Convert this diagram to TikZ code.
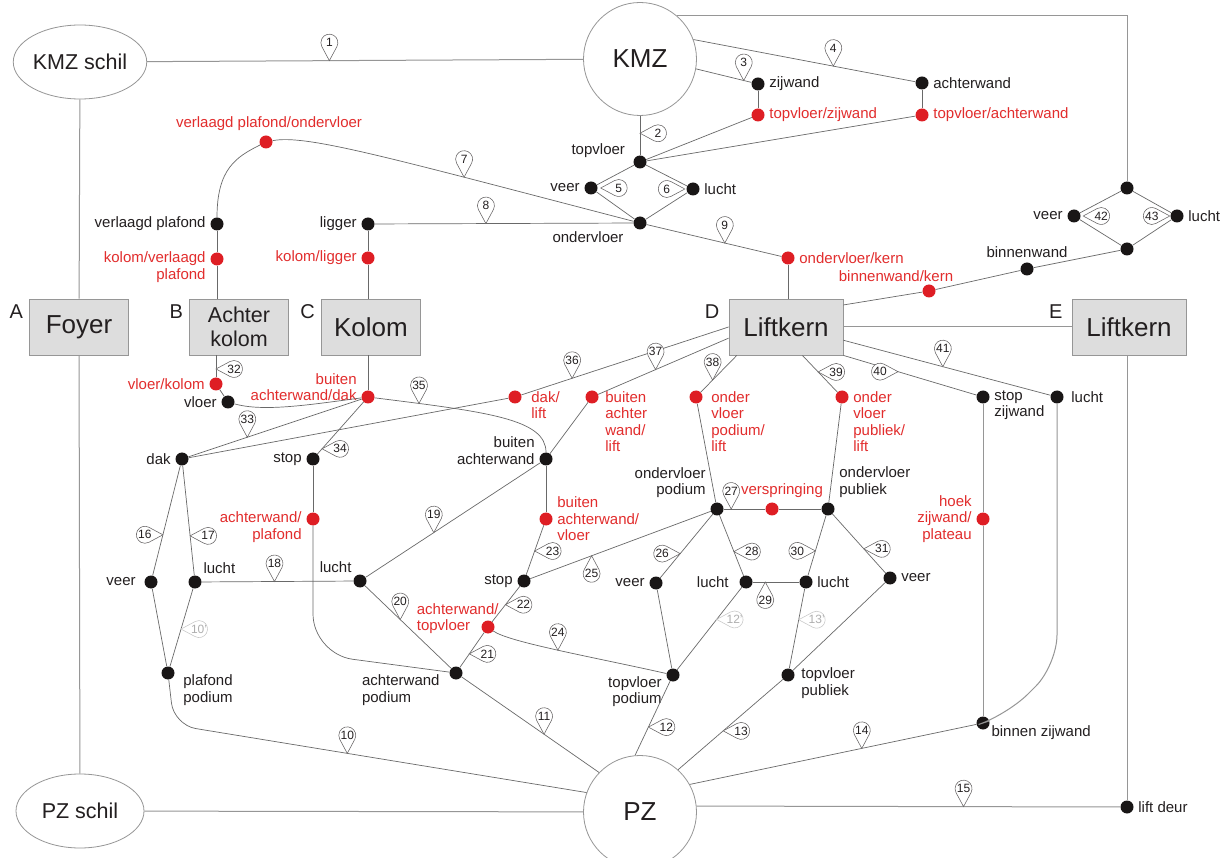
\documentclass[tikz,border=0pt]{standalone}
\usepackage{fontspec}
\setmainfont{Liberation Sans}
\usetikzlibrary{calc, shapes.geometric}

\definecolor{edgegray}{RGB}{105,105,105}
\definecolor{framegray}{RGB}{150,150,150}
\definecolor{boxfill}{RGB}{221,221,221}
\definecolor{dotred}{RGB}{222,30,36}
\definecolor{txtred}{RGB}{226,45,45}
\definecolor{dotblack}{RGB}{25,22,22}
\definecolor{txtblack}{RGB}{35,31,32}
\definecolor{ghost}{RGB}{175,175,175}

\newcommand{\numtag}[4][txtblack]{%
  \draw[tagline, draw=#1!70] (#2) -- ++(#3+28.2:15.87) arc[start angle=#3+118.2, end angle=#3-118.2, radius=8.5] -- cycle;
  \path (#2) ++(#3:18) node[tagtext, text=#1] {#4};}

\begin{document}
\begin{tikzpicture}[x=1pt, y=-1pt,
    label distance=3pt,
    edge/.style={draw=edgegray, line width=0.7pt},
    frame/.style={draw=framegray, line width=1pt},
    dot/.style={circle, fill=dotblack, inner sep=0pt, minimum size=13pt},
    rdot/.style={dot, fill=dotred},
    lbl/.style={font=\fontsize{15}{16.5}\selectfont, text=txtblack, inner sep=1.5pt},
    rlbl/.style={lbl, text=txtred},
    big/.style={font=\fontsize{26}{28}\selectfont, text=txtblack},
    hub/.style={circle, draw=framegray, line width=0.8pt, minimum size=113pt, inner sep=0pt, big},
    shell/.style={ellipse, draw=framegray, line width=0.8pt, minimum width=128pt, minimum height=74pt, inner sep=0pt, font=\fontsize{21.5}{24}\selectfont, text=txtblack},
    zone/.style={rectangle, draw=framegray, fill=boxfill, line width=0.8pt, minimum width=99pt, minimum height=56pt, inner sep=0pt, big},
    letter/.style={font=\fontsize{20}{20}\selectfont, text=txtblack, inner sep=0pt, anchor=east},
    tagline/.style={fill=white, line width=0.55pt},
    tagtext/.style={font=\fontsize{12}{12}\selectfont, inner sep=0pt},
  ]
  \path[use as bounding box, fill=white] (0,0) rectangle (1227,858);

  \node[shell] (kmzs) at (80,62) {KMZ schil};
  \node[shell] (pzs) at (80,811) {PZ schil};
  \node[hub] (kmz) at (640,59) {KMZ};
  \node[hub] (pz) at (640,812) {PZ};
  \node[zone] (foyer) at (79,327) {Foyer};
  \node[zone, font=\fontsize{21.5}{24}\selectfont, align=center] (achter) at (239,327) {Achter\\kolom};
  \node[zone] (kolom) at (371,327) {Kolom};
  \node[zone, minimum width=114pt] (liftD) at (786,327) {Liftkern};
  \node[zone, minimum width=114pt] (liftE) at (1129,327) {Liftkern};
  \node[letter] (zoneA) at ([xshift=-6pt, yshift=-13pt]foyer.north west) {A};
  \node[letter] (zoneB) at ([xshift=-6pt, yshift=-13pt]achter.north west) {B};
  \node[letter] (zoneC) at ([xshift=-6pt, yshift=-13pt]kolom.north west) {C};
  \node[letter] (zoneD) at ([xshift=-9pt, yshift=-13pt]liftD.north west) {D};
  \node[letter] (zoneE) at ([xshift=-9pt, yshift=-13pt]liftE.north west) {E};

  \node[dot, label={[lbl]east:zijwand}] (zijw) at (758,84) {};
  \node[rdot, label={[rlbl]east:topvloer/zijwand}] (tvzw) at (758,115) {};
  \node[dot, label={[lbl]east:achterwand}] (achw) at (922,83) {};
  \node[rdot, label={[rlbl]east:topvloer/achterwand}] (tvaw) at (922,115) {};
  \node[dot, label={[lbl, xshift=-4pt]165:topvloer}] (topv) at (640,162) {};
  \node[dot, label={[lbl]west:veer}] (veer1) at (591,188) {};
  \node[dot, label={[lbl]east:lucht}] (lucht1) at (693,189) {};
  \node[dot, label={[lbl, anchor=north east, xshift=-8pt]south west:ondervloer}] (onderv) at (640,223) {};
  \node[dot, label={[lbl]west:ligger}] (ligger) at (368,224) {};
  \node[rdot, label={[rlbl]west:kolom/ligger}] (kolig) at (368,258) {};
  \node[dot, label={[lbl]west:verlaagd plafond}] (vplaf) at (217,224) {};
  \node[rdot, label={[rlbl, align=right, yshift=-8.25pt]west:kolom/verlaagd\\plafond}] (kovp) at (217,259) {};
  \node[rdot, label={[rlbl, xshift=3pt]above:verlaagd plafond/ondervloer}] (vpod) at (266,142) {};
  \node[rdot, label={[rlbl]east:ondervloer/kern}] (odkern) at (788,258) {};
  \node[rdot, label={[rlbl, xshift=-33pt, yshift=-2pt]above:binnenwand/kern}] (bwkern) at (929,291) {};
  \node[dot, label={[lbl]above:binnenwand}] (bwand) at (1027,269) {};
  \node[dot] (dtop) at (1127,188) {};
  \node[dot, label={[lbl]west:veer}] (dveer) at (1074,216) {};
  \node[dot, label={[lbl]east:lucht}] (dlucht) at (1177,216) {};
  \node[dot] (dbot) at (1127,249) {};

  \node[rdot, label={[rlbl]west:vloer/kolom}] (vlko) at (216,384) {};
  \node[dot, label={[lbl]west:vloer}] (vloer) at (228,402) {};
  \node[rdot, label={[rlbl, align=right, yshift=10pt]west:buiten\\achterwand/dak}] (bad) at (368,397) {};
  \node[rdot, label={[rlbl, align=left, xshift=5pt, yshift=-8.25pt]east:dak/\\lift}] (dakl) at (515,397) {};
  \node[rdot, label={[rlbl, align=left, xshift=2pt, yshift=-24.75pt]east:buiten\\achter\\wand/\\lift}] (balift) at (592,397) {};
  \node[rdot, label={[rlbl, align=left, xshift=4pt, yshift=-24.75pt]east:onder\\vloer\\podium/\\lift}] (odpl) at (696,397) {};
  \node[rdot, label={[rlbl, align=left, yshift=-24.75pt]east:onder\\vloer\\publiek/\\lift}] (odpb) at (842,397) {};
  \node[dot, label={[lbl]west:dak}] (dak) at (182,459) {};
  \node[dot, label={[lbl]west:stop}] (stopl) at (313,459) {};
  \node[dot, label={[lbl, align=right, yshift=8.25pt]west:buiten\\achterwand}] (baw) at (546,459) {};
  \node[rdot, label={[rlbl, align=left]east:buiten\\achterwand/\\vloer}] (bawv) at (546,519) {};
  \node[rdot, label={[rlbl, align=right, yshift=-8.25pt]west:achterwand/\\plafond}] (awpl) at (313,519) {};
  \node[dot, label={[lbl, xshift=-4pt]west:veer}] (veerL) at (151,582) {};
  \node[dot, label={[lbl, anchor=south west]north east:lucht}] (luchtL) at (195,582) {};
  \node[dot, label={[lbl, anchor=south east]north west:lucht}] (luchtM) at (360,581) {};
  \node[dot, label={[lbl]west:stop}] (stopR) at (524,581) {};
  \node[rdot, label={[rlbl, align=left, xshift=22pt, yshift=8.25pt]west:achterwand/\\topvloer}] (awtv) at (488,627) {};
  \node[dot, label={[lbl, align=right, yshift=26.5pt]west:ondervloer\\podium}] (odpod) at (717,509) {};
  \node[rdot, label={[rlbl, xshift=10pt]above:verspringing}] (versp) at (772,509) {};
  \node[dot, label={[lbl, align=left, yshift=27pt]east:ondervloer\\publiek}] (odpub) at (828,509) {};
  \node[dot, label={[lbl]west:veer}] (veerM) at (656,583) {};
  \node[dot, label={[lbl, xshift=-6pt]west:lucht}] (luchtMR) at (746,582) {};
  \node[dot, label={[lbl]east:lucht}] (luchtR2) at (806,582) {};
  \node[dot, label={[lbl]east:veer}] (veerR) at (890,578) {};
  \node[dot, label={[lbl, align=right, yshift=-16.5pt]west:topvloer\\podium}] (tvpod) at (673,675) {};
  \node[dot, label={[lbl, align=left, xshift=2pt, yshift=-8pt]east:topvloer\\publiek}] (tvpub) at (788,675) {};
  \node[dot, label={[lbl, align=left, anchor=north east, xshift=-5pt]west:achterwand\\podium}] (awpod) at (456,673) {};
  \node[dot, label={[lbl, align=left, anchor=north west, xshift=4pt]east:plafond\\podium}] (pfpod) at (168,673) {};
  \node[dot, label={[lbl, align=left, yshift=-8.25pt]east:stop\\zijwand}] (stopzw) at (983,397) {};
  \node[dot, label={[lbl, xshift=3pt]east:lucht}] (luchtRR) at (1057,397) {};
  \node[rdot, label={[rlbl, align=right]west:hoek\\zijwand/\\plateau}] (hoek) at (983,519) {};
  \node[dot, label={[lbl, anchor=north west, yshift=6pt]south east:binnen zijwand}] (bzw) at (983,723) {};
  \node[dot, label={[lbl]east:lift deur}] (liftdeur) at (1127,807) {};

  \draw[frame] (kmzs) -- (kmz) coordinate[pos=0.418] (t1);
  \draw[frame] (kmzs) -- (foyer);
  \draw[frame] (foyer) -- (pzs);
  \draw[frame] (pzs) -- (pz);
  \draw[frame] (kmz.50) -| (dtop);
  \draw[frame] (liftD) -- (liftE);
  \draw[frame] (liftE.south -| liftdeur) -- (liftdeur);
  \draw[frame] (pz.6) -- (liftdeur) coordinate[pos=0.63] (t15);

  \draw[edge] (kmz) -- (topv) coordinate[pos=0.44] (t2);
  \draw[edge] (kmz.-10) -- (zijw) coordinate[pos=0.86] (t3);
  \draw[edge] (kmz.20) -- (achw) coordinate[pos=0.63] (t4);
  \draw[edge] (zijw) -- (tvzw);
  \draw[edge] (achw) -- (tvaw);
  \draw[edge] (tvzw) -- (topv);
  \draw[edge] (tvaw) -- (topv);
  \draw[edge] (topv) -- (veer1);
  \draw[edge] (topv) -- (lucht1);
  \draw[edge] (veer1) -- (onderv);
  \draw[edge] (lucht1) -- (onderv);
  \draw[edge] (ligger) -- (onderv) coordinate[pos=0.43] (t8);
  \draw[edge] (onderv) -- (odkern) coordinate[pos=0.58] (t9);
  \draw[edge] (odkern) -- (odkern |- liftD.north);
  \draw[edge] (kolig) -- (ligger);
  \draw[edge] (kolig) -- (kolig |- kolom.north);
  \draw[edge] (kovp) -- (vplaf);
  \draw[edge] (kovp) -- (kovp |- achter.north);
  \draw[edge] (vplaf) .. controls +(0,-55) and +(-30,15) .. (vpod);
  \draw[edge] (vpod) .. controls +(40,-8) and +(-250,-65) .. (onderv) coordinate[pos=0.72] (t7);
  \draw[edge] (dtop) -- (dveer);
  \draw[edge] (dtop) -- (dlucht);
  \draw[edge] (dveer) -- (dbot);
  \draw[edge] (dlucht) -- (dbot);
  \draw[edge] (liftD.21) -- (bwkern);
  \draw[edge] (bwkern) -- (bwand);
  \draw[edge] (bwand) -- (dbot);
  \coordinate (t5) at ([xshift=3pt]veer1.east);
  \coordinate (t6) at ([xshift=-1.5pt]lucht1.west);
  \coordinate (t42) at ([xshift=2.5pt]dveer.east);
  \coordinate (t43) at ([xshift=-0.5pt]dlucht.west);

  \draw[edge] (achter.south -| vlko) -- (vlko) coordinate[pos=0.62] (t32);
  \draw[edge] (vlko) -- (vloer);
  \draw[edge] (vloer) .. controls +(35,10) and +(-60,8) .. (bad);
  \draw[edge] (bad) -- (bad |- kolom.south);
  \draw[edge] (dak) -- (bad) coordinate[pos=0.34] (t33);
  \draw[edge] (bad) -- (stopl) coordinate[pos=0.9] (t34);
  \draw[edge] (bad) .. controls +(120,15) and +(0,-40) .. (baw) coordinate[pos=0.14] (t35);
  \draw[edge] (liftD.west) -- (dakl) coordinate[pos=0.755] (t36);
  \draw[edge] (dakl) -- (dak);
  \draw[edge] (liftD.191) -- (balift) coordinate[pos=0.56] (t37);
  \draw[edge] (balift) -- (baw);
  \draw[edge] (baw) -- (bawv);
  \draw[edge] (baw) -- (luchtM) coordinate[pos=0.61] (t19);
  \draw[edge] (bawv) -- (stopR) coordinate[pos=0.52] (t23);
  \draw[edge] (stopl) -- (awpl);
  \draw[edge, rounded corners=40pt] (awpl) -- ++(0,135) -- (awpod);
  \draw[edge] (dak) -- (veerL) coordinate[pos=0.63] (t16);
  \draw[edge] (dak) -- (luchtL) coordinate[pos=0.64] (t17);
  \draw[edge] (luchtL) -- (luchtM) coordinate[pos=0.48] (t18);
  \draw[edge] (veerL) -- (pfpod);
  \draw[edge] (luchtL) -- (pfpod) coordinate[pos=0.52] (t10g);
  \draw[edge, rounded corners=22pt] (pfpod) -- ++(6,52) -- (pz.160) coordinate[pos=0.42] (t10);
  \draw[edge] (luchtM) -- (awpod) coordinate[pos=0.41] (t20);
  \draw[edge] (stopR) -- (awtv) coordinate[pos=0.52] (t22);
  \draw[edge] (awtv) -- (awpod) coordinate[pos=0.61] (t21);
  \draw[edge] (awtv) .. controls +(20,15) and +(-80,-18) .. (tvpod) coordinate[pos=0.5] (t24);
  \draw[edge] (awpod) -- (pz.136) coordinate[pos=0.6] (t11);
  \draw[edge] (stopR) -- (odpod) coordinate[pos=0.34] (t25);
  \draw[edge] (odpod) -- (versp) coordinate[pos=0.18] (t27);
  \draw[edge] (versp) -- (odpub);
  \draw[edge] (liftD.210) -- (odpl) coordinate[pos=0.67] (t38);
  \draw[edge] (odpl) -- (odpod);
  \draw[edge] (liftD.300) -- (odpb) coordinate[pos=0.45] (t39);
  \draw[edge] (odpb) -- (odpub);
  \draw[edge] (liftD.south east) -- (stopzw) coordinate[pos=0.41] (t40);
  \draw[edge] (liftD.-13) -- (luchtRR) coordinate[pos=0.48] (t41);
  \draw[frame] (stopzw) -- (hoek);
  \draw[frame] (hoek) -- (bzw);
  \draw[frame, rounded corners=30pt] (luchtRR) -- ++(0,268) -- ++(-50,50) -- (bzw);
  \draw[edge] (pz.29) -- (bzw) coordinate[pos=0.6] (t14);
  \draw[edge] (odpod) -- (veerM) coordinate[pos=0.62] (t26);
  \draw[edge] (odpod) -- (luchtMR) coordinate[pos=0.6] (t28);
  \draw[edge] (luchtMR) -- (luchtR2) coordinate[pos=0.27] (t29);
  \draw[edge] (odpub) -- (luchtR2) coordinate[pos=0.59] (t30);
  \draw[edge] (odpub) -- (veerR) coordinate[pos=0.59] (t31);
  \draw[edge] (veerM) -- (tvpod);
  \draw[edge] (luchtMR) -- (tvpod) coordinate[pos=0.39] (t12g);
  \draw[edge] (tvpod) -- (pz.95) coordinate[pos=0.62] (t12);
  \draw[edge] (luchtR2) -- (tvpub) coordinate[pos=0.39] (t13g);
  \draw[edge] (veerR) -- (tvpub);
  \draw[edge] (tvpub) -- (pz.48) coordinate[pos=0.57] (t13);

  \numtag{t1}{-90}{1}
  \numtag{t2}{0}{2}
  \numtag{t3}{-90}{3}
  \numtag{t4}{-90}{4}
  \numtag{t5}{0}{5}
  \numtag{t6}{180}{6}
  \numtag{t7}{-90}{7}
  \numtag{t8}{-90}{8}
  \numtag{t9}{-90}{9}
  \numtag{t10}{-90}{10}
  \numtag[ghost]{t10g}{0}{10'}
  \numtag{t11}{-90}{11}
  \numtag{t12}{0}{12}
  \numtag[ghost]{t12g}{0}{12'}
  \numtag{t13}{0}{13}
  \numtag[ghost]{t13g}{0}{13'}
  \numtag{t14}{-90}{14}
  \numtag{t15}{-90}{15}
  \numtag{t16}{180}{16}
  \numtag{t17}{0}{17}
  \numtag{t18}{-90}{18}
  \numtag{t19}{-90}{19}
  \numtag{t20}{-90}{20}
  \numtag{t21}{0}{21}
  \numtag{t22}{0}{22}
  \numtag{t23}{0}{23}
  \numtag{t24}{-90}{24}
  \numtag{t25}{90}{25}
  \numtag{t26}{180}{26}
  \numtag{t27}{-90}{27}
  \numtag{t28}{0}{28}
  \numtag{t29}{90}{29}
  \numtag{t30}{180}{30}
  \numtag{t31}{0}{31}
  \numtag{t32}{0}{32}
  \numtag{t33}{-90}{33}
  \numtag{t34}{0}{34}
  \numtag{t35}{-90}{35}
  \numtag{t36}{-90}{36}
  \numtag{t37}{-90}{37}
  \numtag{t38}{-90}{38}
  \numtag{t39}{0}{39}
  \numtag{t40}{180}{40}
  \numtag{t41}{-90}{41}
  \numtag{t42}{0}{42}
  \numtag{t43}{180}{43}
\end{tikzpicture}
\end{document}
